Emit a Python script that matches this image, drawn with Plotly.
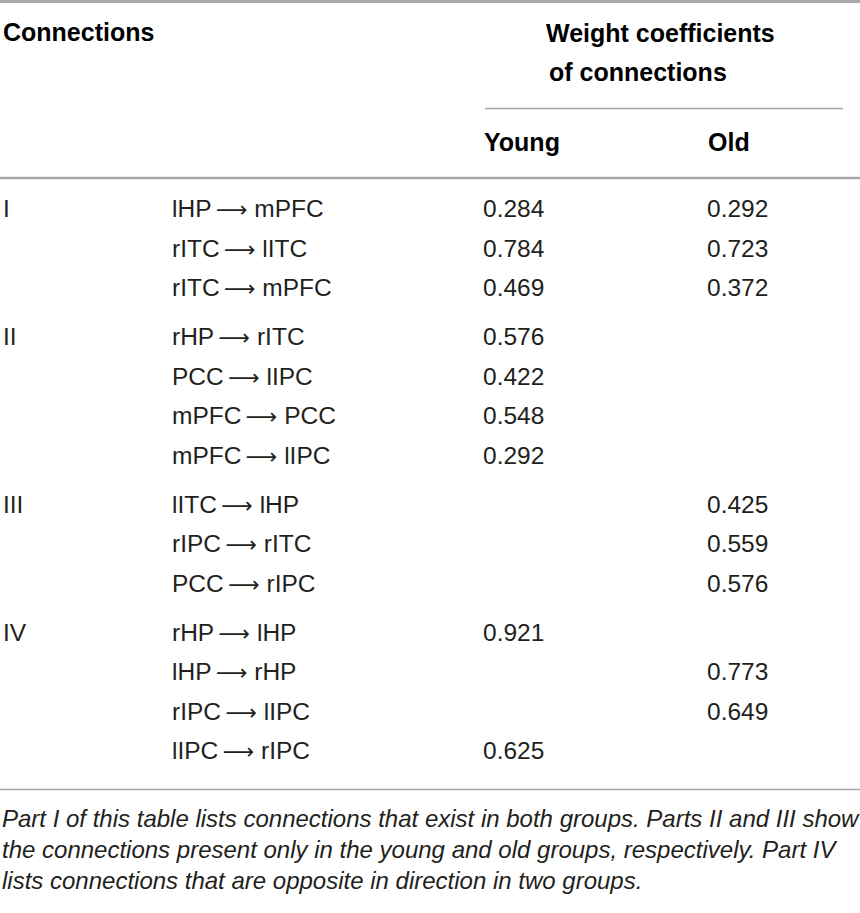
import plotly.graph_objects as go

# table content
parts = ["I", "II", "III", "IV"]
part_sizes = [3, 4, 3, 4]
connections = [
    "lHP → mPFC", "rITC → lITC", "rITC → mPFC",
    "rHP → rITC", "PCC → lIPC", "mPFC → PCC", "mPFC → lIPC",
    "lITC → lHP", "rIPC → rITC", "PCC → rIPC",
    "rHP → lHP", "lHP → rHP", "rIPC → lIPC", "lIPC → rIPC",
]
young = [0.284, 0.784, 0.469, 0.576, 0.422, 0.548, 0.292,
         None, None, None, 0.921, None, None, 0.625]
old = [0.292, 0.723, 0.372, None, None, None, None,
       0.425, 0.559, 0.576, None, 0.773, 0.649, None]
footnote = ("Part I of this table lists connections that exist in both groups. Parts II and III show<br>"
            "the connections present only in the young and old groups, respectively. Part IV<br>"
            "lists connections that are opposite in direction in two groups.")

W, H = 860, 913
FONT = "Liberation Sans, Arial, Helvetica, sans-serif"
INK = "#231f20"
RULE = "#a8a8a8"

# row positions (pixels from top)
row_y = []
part_y = []
y = 211
for size in part_sizes:
    part_y.append(y)
    for i in range(size):
        row_y.append(y)
        y += 39.5
    y += 9.5

col_part, col_conn, col_young, col_old = 3, 172, 483, 707

# long thin arrow like the typeset one, with a thin gap on the left
arrow = '<span style="font-family:DejaVu Sans;font-size:22px">\u2009⟶</span> '
conn_text = [c.replace(" → ", arrow) for c in connections]

fig = go.Figure()
body = dict(family=FONT, size=24.5, color=INK)

fig.add_trace(go.Scatter(x=[col_part] * len(parts), y=part_y, text=parts,
                         mode="text", textposition="middle right", textfont=body))
fig.add_trace(go.Scatter(x=[col_conn] * len(connections), y=row_y, text=conn_text,
                         mode="text", textposition="middle right", textfont=body))
fig.add_trace(go.Scatter(x=[col_young] * len(young), y=row_y,
                         text=[f"{v:.3f}" if v is not None else "" for v in young],
                         mode="text", textposition="middle right", textfont=body))
fig.add_trace(go.Scatter(x=[col_old] * len(old), y=row_y,
                         text=[f"{v:.3f}" if v is not None else "" for v in old],
                         mode="text", textposition="middle right", textfont=body))

head = dict(family=FONT, size=25, color="#000000", weight="bold")
for txt, hx, hy in [("Connections", 1, 32), ("Weight coefficients", 544, 33),
                    ("of connections", 547, 72), ("Young", 482, 142), ("Old", 706, 142)]:
    fig.add_annotation(x=hx, y=hy, text=txt, showarrow=False, xanchor="left",
                       yanchor="middle", font=head)

fig.add_annotation(x=0, y=849, text=footnote, showarrow=False, xanchor="left",
                   yanchor="middle", align="left",
                   font=dict(family=FONT, size=24, color=INK, style="italic"))

# table rules
for x0, x1, ly, lw in [(0, W, 1.5, 3), (485, 843, 108.5, 1.5),
                       (0, W, 178, 2.5), (0, W, 789.5, 1.5)]:
    fig.add_shape(type="line", x0=x0, x1=x1, y0=ly, y1=ly,
                  line=dict(color=RULE, width=lw))

fig.update_layout(
    width=W, height=H, margin=dict(l=0, r=0, t=0, b=0),
    paper_bgcolor="white", plot_bgcolor="white", showlegend=False,
    hovermode=False,
    xaxis=dict(range=[0, W], visible=False, fixedrange=True),
    yaxis=dict(range=[H, 0], visible=False, fixedrange=True),
)
# drop the default page margin so the figure sits at the window corner
fig.write_html("out.html", config={"displayModeBar": False},
               post_script="document.body.style.margin='0';")
